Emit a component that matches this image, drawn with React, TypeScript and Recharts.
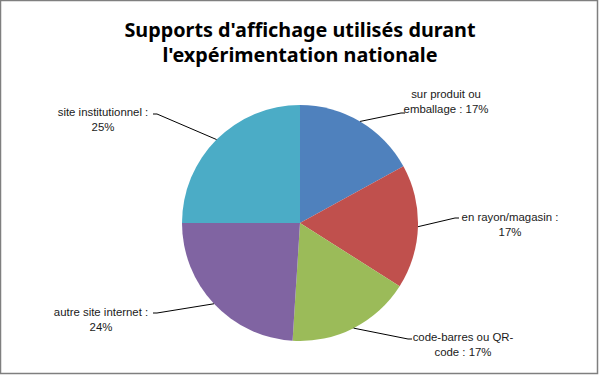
import React from "react";
import { PieChart, Pie, Cell } from "recharts";

const categories = [
  "sur produit ou emballage",
  "en rayon/magasin",
  "code-barres ou QR-code",
  "autre site internet",
  "site institutionnel",
];
const values = [17, 17, 17, 24, 25];
const labelLines = [
  ["sur produit ou", "emballage : 17%"],
  ["en rayon/magasin :", "17%"],
  ["code-barres ou QR-", "code : 17%"],
  ["autre site internet :", "24%"],
  ["site institutionnel :", "25%"],
];
const colors = ["#4F81BD", "#C0504D", "#9BBB59", "#8064A2", "#4BACC6"];

// label placement relative to pie centre: elbow point, text centre x, first line y, side
const labelLayout = [
  { ex: 101, ey: -110, tx: 146, ty: -129, side: 1 },
  { ex: 155, ey: -5, tx: 210, ty: -6, side: 1 },
  { ex: 108, ey: 116, tx: 163, ty: 114, side: 1 },
  { ex: -143, ey: 90, tx: -199, ty: 89, side: -1 },
  { ex: -143, ey: -109, tx: -197, ty: -111, side: -1 },
];

const data = categories.map((name, i) => ({ name, value: values[i] }));

const RAD = Math.PI / 180;

const renderLabel = (props: any) => {
  const { cx, cy, midAngle, outerRadius, index } = props;
  const L = labelLayout[index];
  const sx = cx + outerRadius * Math.cos(-midAngle * RAD);
  const sy = cy + outerRadius * Math.sin(-midAngle * RAD);
  const ex = cx + L.ex;
  const ey = cy + L.ey;
  const hx = ex + L.side * 4;
  const lines = labelLines[index];
  return (
    <g>
      <polyline
        points={`${sx},${sy} ${ex},${ey} ${hx},${ey}`}
        fill="none"
        stroke="#000"
        strokeWidth={1}
      />
      {lines.map((t, k) => (
        <text
          key={k}
          x={cx + L.tx}
          y={cy + L.ty + k * 15}
          textAnchor="middle"
          dominantBaseline="central"
          fontFamily="'Liberation Sans', sans-serif"
          fontSize={11.4}
          fill="#1a1a1a"
        >
          {t}
        </text>
      ))}
    </g>
  );
};

export default function App() {
  return (
    <div style={{ position: "absolute", left: 0, top: 0, width: 599, height: 375, background: "#fff" }}>
      <PieChart
        width={599}
        height={375}
        margin={{ top: 0, right: 0, bottom: 0, left: 0 }}
        style={{ position: "absolute", left: 0, top: 0 }}
      >
        <rect x={0.5} y={0.5} width={597} height={373} fill="none" stroke="#7f7f7f" strokeWidth={1.5} />
        <text
          x={300}
          y={29}
          textAnchor="middle"
          dominantBaseline="central"
          fontFamily="'Noto Sans', sans-serif"
          fontWeight="bold"
          fontSize={19.8}
          fill="#000"
        >
          Supports d'affichage utilisés durant
        </text>
        <text
          x={300}
          y={54}
          textAnchor="middle"
          dominantBaseline="central"
          fontFamily="'Noto Sans', sans-serif"
          fontWeight="bold"
          fontSize={19.8}
          fill="#000"
        >
          l'expérimentation nationale
        </text>
        <Pie
          data={data}
          dataKey="value"
          nameKey="name"
          cx={300}
          cy={223}
          outerRadius={118}
          startAngle={90}
          endAngle={-270}
          stroke="none"
          isAnimationActive={false}
          label={renderLabel}
          labelLine={false}
        >
          {data.map((d, i) => (
            <Cell key={d.name} fill={colors[i]} />
          ))}
        </Pie>
      </PieChart>
    </div>
  );
}
